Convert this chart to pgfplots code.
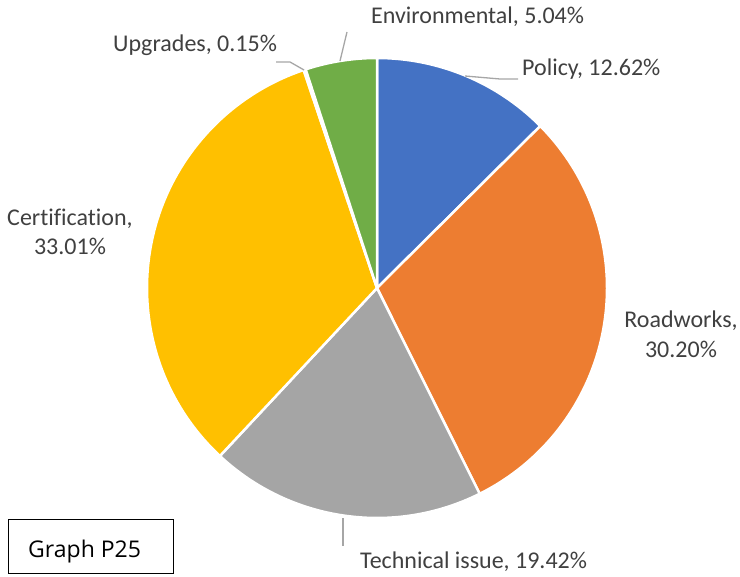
\documentclass[border=0pt]{standalone}
\usepackage{pgfplots}
\pgfplotsset{compat=1.18}
\usepackage{fontspec}
\setmainfont{Carlito}[Ligatures={NoCommon,NoContextual}]
\newfontfamily\boxfont{Open Sans}
\definecolor{cPolicy}{HTML}{4472C4}
\definecolor{cRoad}{HTML}{ED7D31}
\definecolor{cTech}{HTML}{A5A5A5}
\definecolor{cCert}{HTML}{FFC000}
\definecolor{cUpg}{HTML}{5B9BD5}
\definecolor{cEnv}{HTML}{70AD47}
\definecolor{lbl}{HTML}{404040}
\definecolor{lead}{HTML}{A6A6A6}
\begin{document}
\begin{tikzpicture}
\begin{axis}[
  width=740bp, height=576bp, scale only axis,
  xmin=0, xmax=740, ymin=0, ymax=576,
  hide axis, clip=false,
]
\path (axis cs:0,0) rectangle (axis cs:740,576);
% pie wedges: value/colour, clockwise from the top
\def\cum{0}
\foreach \v/\col in {12.62/cPolicy, 30.20/cRoad, 19.42/cTech, 33.01/cCert, 0.15/cUpg, 5.04/cEnv}{
  \pgfmathsetmacro\a{90-(\cum/100.44)*360}
  \pgfmathsetmacro\b{90-((\cum+\v)/100.44)*360}
  \edef\temp{\noexpand\filldraw[fill=\col, draw=white, line width=2.5bp, line join=round] (axis cs:377,288) -- ++(\a:230bp) arc[start angle=\a, end angle=\b, radius=230bp] -- cycle;}
  \temp
  \pgfmathsetmacro\c{\cum+\v}
  \xdef\cum{\c}
}
% leader lines
\draw[lead, line width=1.3bp] (axis cs:465,500) -- (axis cs:500,497) -- (axis cs:518,497);
\draw[lead, line width=1.3bp] (axis cs:340,515) -- (axis cs:347,544);
\draw[lead, line width=1.3bp] (axis cs:304,506) -- (axis cs:290,514) -- (axis cs:276,514);
\draw[lead, line width=1.3bp] (axis cs:343,58) -- (axis cs:343,30);
% labels
\begin{scope}[every node/.style={inner sep=0pt, text=lbl, font=\fontsize{24bp}{29bp}\selectfont}]
\node[anchor=base west] at (axis cs:522,500) {Policy, 12.62\%};
\node[anchor=base west] at (axis cs:371,552) {Environmental, 5.04\%};
\node[anchor=base west] at (axis cs:113,524) {Upgrades, 0.15\%};
\node[anchor=base west] at (axis cs:360,8) {Technical issue, 19.42\%};
\node[anchor=base] at (axis cs:70,350) {Certification,};
\node[anchor=base] at (axis cs:70,321) {33.01\%};
\node[anchor=base] at (axis cs:681,249) {Roadworks,};
\node[anchor=base] at (axis cs:681,219) {30.20\%};
\end{scope}
% caption box
\draw[black, line width=1bp] (axis cs:8,57) rectangle (axis cs:173,3);
\node[anchor=base west, inner sep=0pt, font=\boxfont\fontsize{23bp}{27bp}\selectfont] at (axis cs:28,19) {Graph P25};
\end{axis}
\end{tikzpicture}
\end{document}
